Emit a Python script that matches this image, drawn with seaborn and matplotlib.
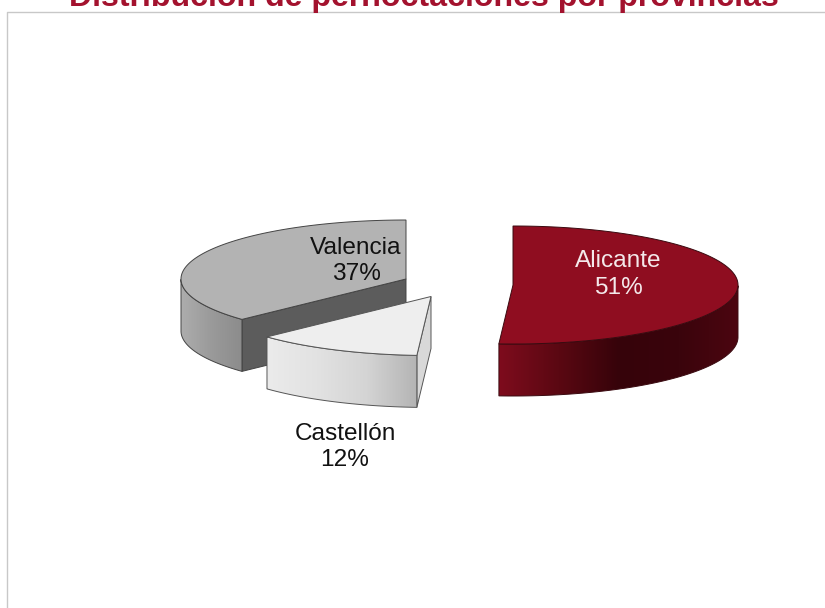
#!/usr/bin/env python3
"""Exploded 3D-look pie of overnight stays by province."""

import numpy as np
import matplotlib.pyplot as plt
import seaborn as sns
from matplotlib.patches import Polygon

provinces = ['Alicante', 'Castellón', 'Valencia']
shares = [51, 12, 37]
title = 'Distribución de pernoctaciones por provincias'

# look of each slice, same order as provinces
top_colors = ['#8f0d20', '#eeeeee', '#b3b3b3']
wall_colors = [['#7e0c1d', '#5a0812', '#36030a', '#3a040c', '#4c0610'],
               ['#ebebeb', '#e2e2e2', '#d4d4d4', '#b4b4b4'],
               ['#adadad', '#9a9a9a', '#8c8c8c']]
face_colors = [None, '#d8d8d8', '#5c5c5c']
edge_colors = ['#3a0a10', '#555555', '#444444']
text_colors = ['#f4e8ea', '#111111', '#111111']

# pixel layout of the fake perspective
centers = [(513, 285), (431, 296.5), (406, 279)]
label_pos = [(618, 274.5), (345, 447), (356, 261)]
rx, ry, depth = 225, 59, 52

sns.set_theme(style='white')
plt.rcParams['font.family'] = ['Liberation Sans', 'DejaVu Sans']

fig = plt.figure(figsize=(8.25, 6.08), dpi=100)
ax = fig.add_axes([0, 0, 1, 1])
ax.axis('off')

# chart frame runs off the right and bottom of the picture
ax.plot([7, 7, 825], [608, 12, 12], color='#c8c8c8', lw=1.0)


def project(center, theta):
    """Clockwise angle from 12 o'clock to a point on the flattened ellipse."""
    return center[0] + rx * np.sin(theta), center[1] - ry * np.cos(theta)


def draw_slice(center, start, end, top, wall, face, edge):
    theta = np.linspace(start, end, 240)
    xs, ys = project(center, theta)

    # the cut face at the start angle looks towards the viewer
    if face is not None:
        px, py = project(center, start)
        quad = [center, (px, py), (px, py + depth),
                (center[0], center[1] + depth)]
        ax.add_patch(Polygon(quad, closed=True, fc=face, ec=edge,
                             lw=0.7, zorder=2))

    # outer wall, only the front half of the rim shows
    front = np.cos(theta) <= 0
    wx, wy = xs[front], ys[front]
    ramp = np.array(sns.blend_palette(wall, 256))[None, :, :3]
    band = np.column_stack([np.r_[wx, wx[::-1]],
                            np.r_[wy, wy[::-1] + depth]])
    outline = Polygon(band, closed=True, fc='none', ec=edge, lw=0.7, zorder=4)
    ax.add_patch(outline)
    img = ax.imshow(ramp, extent=(wx.min(), wx.max(), (wy + depth).max(), wy.min()),
                    aspect='auto', zorder=3, interpolation='bilinear')
    img.set_clip_path(outline)

    # top surface
    rim = np.column_stack([np.r_[center[0], xs], np.r_[center[1], ys]])
    ax.add_patch(Polygon(rim, closed=True, fc=top, ec=edge, lw=0.7, zorder=5))


# slices run clockwise from 12 o'clock, angles follow the shares
bounds = 2 * np.pi * np.cumsum([0] + shares) / sum(shares)
for i in [2, 1, 0]:
    draw_slice(centers[i], bounds[i], bounds[i + 1], top_colors[i],
               wall_colors[i], face_colors[i], edge_colors[i])
    ax.text(label_pos[i][0], label_pos[i][1], f'{provinces[i]}\n{shares[i]}%',
            ha='center', va='center', fontsize=17.6, linespacing=1.26,
            color=text_colors[i], zorder=6)

ax.text(424, 6, title, ha='center', va='baseline', fontsize=23.1,
        fontweight='bold', color='#a3122e', clip_on=False)

ax.set_xlim(0, 825)
ax.set_ylim(608, 0)

fig.savefig('out.png', dpi=100)
